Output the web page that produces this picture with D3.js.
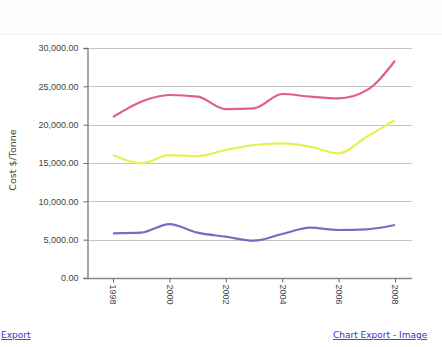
<!DOCTYPE html>
<html><head><meta charset="utf-8">
<script src="https://cdn.jsdelivr.net/npm/d3@7"></script>
<style>
body{margin:0;background:#fff;font-family:"DejaVu Sans",sans-serif;}
</style></head>
<body>
<svg id="c" width="442" height="347"></svg>
<script>
const years = ["1998","1999","2000","2001","2002","2003","2004","2005","2006","2007","2008"];
const tickYears = ["1998","2000","2002","2004","2006","2008"];
const seriesRed = [21000,23000,23870,23650,22040,22130,24000,23650,23430,24500,28340];
const seriesYellow = [16040,14960,16040,15900,16700,17350,17570,17130,16260,18430,20600];
const seriesBlue = [5830,5910,7040,5910,5390,4870,5740,6560,6260,6350,6910];
const yTicks = [0,5000,10000,15000,20000,25000,30000];
const colors = ["#e0607e","#e8f050","#7070c0"];

const svg = d3.select("#c");
svg.append("rect").attr("x",0).attr("y",0).attr("width",442).attr("height",34).attr("fill","#fcfcfc");
svg.append("line").attr("x1",0).attr("x2",442).attr("y1",34.5).attr("y2",34.5).attr("stroke","#eee");

const L=87,R=412,T=48,B=278;
const x = d3.scalePoint().domain(years).range([113,395]);
const y = d3.scaleLinear().domain([0,30000]).range([B,T]);

svg.append("g").selectAll("line").data(yTicks.filter(d=>d>0)).join("line")
  .attr("x1",L).attr("x2",R).attr("y1",d=>Math.round(y(d))+0.5).attr("y2",d=>Math.round(y(d))+0.5)
  .attr("stroke","#c4c4c4").attr("stroke-width",1);

const fmt = d3.format(",.2f");
const yAxis = svg.append("g").attr("transform",`translate(${L+0.5},0)`)
  .call(d3.axisLeft(y).tickValues(yTicks).tickFormat(fmt).tickSize(4).tickPadding(5));
yAxis.select(".domain").attr("stroke","#888").attr("stroke-width",1.5);
yAxis.selectAll(".tick line").attr("stroke","#666");
yAxis.selectAll("text").attr("font-size",9).attr("fill","#444");

const xAxis = svg.append("g").attr("transform",`translate(0,${B+0.5})`)
  .call(d3.axisBottom(x).tickValues(tickYears).tickSize(4).tickSizeOuter(0));
xAxis.select(".domain").attr("stroke","#888").attr("stroke-width",1.5).attr("d",`M${L},0H${R}`);
xAxis.selectAll(".tick line").attr("stroke","#666");
xAxis.selectAll("text").attr("font-size",9).attr("fill","#444")
  .attr("transform","rotate(90)").attr("text-anchor","start").attr("x",6).attr("y",0).attr("dy","0.35em");

svg.append("text").attr("transform","translate(16,160) rotate(-90)").attr("text-anchor","middle")
  .attr("font-size",9.5).attr("fill","#444").text("Cost $/Tonne");

const line = d3.line().x((d,i)=>x(years[i])).y(d=>y(d)).curve(d3.curveMonotoneX);
[seriesRed,seriesYellow,seriesBlue].forEach((s,i)=>{
  svg.append("path").datum(s).attr("d",line).attr("fill","none")
    .attr("stroke",colors[i]).attr("stroke-width",2.2).attr("stroke-linejoin","round");
});

svg.append("text").attr("x",1).attr("y",338).attr("font-size",9).attr("fill","#3333cc")
  .attr("text-decoration","underline").text("Export");
svg.append("text").attr("x",333).attr("y",338).attr("font-size",9).attr("fill","#3333cc")
  .attr("text-decoration","underline").text("Chart Export - Image");
</script>
</body></html>
